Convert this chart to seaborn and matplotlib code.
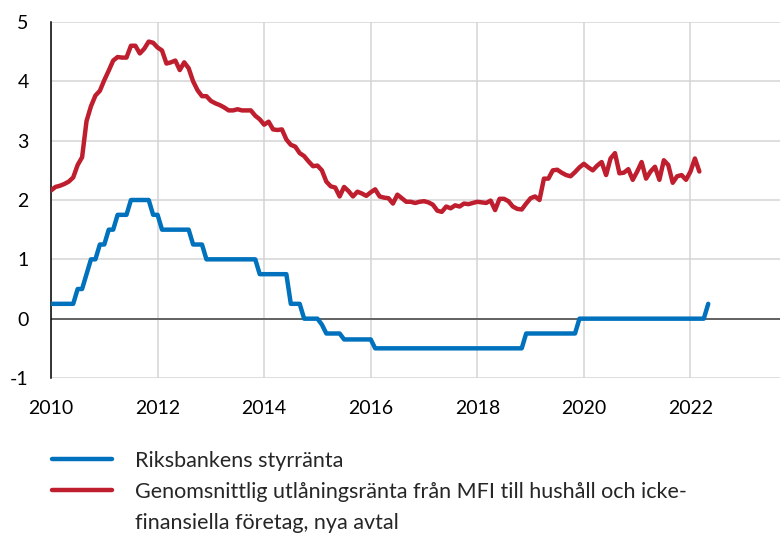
import matplotlib
matplotlib.use('Agg')
import matplotlib.pyplot as plt
from matplotlib.lines import Line2D
import numpy as np
import pandas as pd
import seaborn as sns

# monthly data, first point is January 2010
start_year = 2010

# Riksbankens styrränta (percent), Jan 2010 - May 2022
repo_rate = [
    0.25, 0.25, 0.25, 0.25, 0.25, 0.25, 0.5, 0.5, 0.75, 1.0, 1.0, 1.25,          # 2010
    1.25, 1.5, 1.5, 1.75, 1.75, 1.75, 2.0, 2.0, 2.0, 2.0, 2.0, 1.75,             # 2011
    1.75, 1.5, 1.5, 1.5, 1.5, 1.5, 1.5, 1.5, 1.25, 1.25, 1.25, 1.0,              # 2012
    1.0, 1.0, 1.0, 1.0, 1.0, 1.0, 1.0, 1.0, 1.0, 1.0, 1.0, 0.75,                 # 2013
    0.75, 0.75, 0.75, 0.75, 0.75, 0.75, 0.25, 0.25, 0.25, 0.0, 0.0, 0.0,         # 2014
    0.0, -0.1, -0.25, -0.25, -0.25, -0.25, -0.35, -0.35, -0.35, -0.35, -0.35, -0.35,  # 2015
    -0.35, -0.5, -0.5, -0.5, -0.5, -0.5, -0.5, -0.5, -0.5, -0.5, -0.5, -0.5,     # 2016
    -0.5, -0.5, -0.5, -0.5, -0.5, -0.5, -0.5, -0.5, -0.5, -0.5, -0.5, -0.5,      # 2017
    -0.5, -0.5, -0.5, -0.5, -0.5, -0.5, -0.5, -0.5, -0.5, -0.5, -0.5, -0.25,     # 2018
    -0.25, -0.25, -0.25, -0.25, -0.25, -0.25, -0.25, -0.25, -0.25, -0.25, -0.25, 0.0,  # 2019
    0.0, 0.0, 0.0, 0.0, 0.0, 0.0, 0.0, 0.0, 0.0, 0.0, 0.0, 0.0,                  # 2020
    0.0, 0.0, 0.0, 0.0, 0.0, 0.0, 0.0, 0.0, 0.0, 0.0, 0.0, 0.0,                  # 2021
    0.0, 0.0, 0.0, 0.0, 0.25,                                                    # 2022
]

# Genomsnittlig utlåningsränta från MFI (percent), Jan 2010 - Mar 2022
lending_rate = [
    2.16, 2.22, 2.24, 2.27, 2.31, 2.38, 2.59, 2.72, 3.33, 3.58, 3.76, 3.84,  # 2010
    4.02, 4.18, 4.35, 4.41, 4.40, 4.40, 4.60, 4.60, 4.47, 4.55, 4.67, 4.65,  # 2011
    4.57, 4.52, 4.30, 4.32, 4.35, 4.19, 4.32, 4.22, 4.00, 3.85, 3.75, 3.75,  # 2012
    3.67, 3.63, 3.60, 3.56, 3.51, 3.51, 3.53, 3.51, 3.51, 3.51, 3.42, 3.36,  # 2013
    3.27, 3.32, 3.19, 3.18, 3.19, 3.02, 2.93, 2.90, 2.79, 2.74, 2.65, 2.57,  # 2014
    2.58, 2.50, 2.31, 2.23, 2.21, 2.06, 2.22, 2.15, 2.06, 2.14, 2.11, 2.07,  # 2015
    2.13, 2.18, 2.06, 2.04, 2.03, 1.94, 2.09, 2.03, 1.97, 1.97, 1.95, 1.97,  # 2016
    1.98, 1.96, 1.92, 1.82, 1.80, 1.89, 1.86, 1.91, 1.89, 1.94, 1.93, 1.95,  # 2017
    1.97, 1.96, 1.95, 1.99, 1.83, 2.02, 2.02, 1.98, 1.89, 1.85, 1.84, 1.94,  # 2018
    2.03, 2.06, 2.00, 2.36, 2.36, 2.50, 2.51, 2.46, 2.42, 2.40, 2.47, 2.55,  # 2019
    2.61, 2.55, 2.50, 2.58, 2.64, 2.42, 2.70, 2.79, 2.45, 2.46, 2.52, 2.34,  # 2020
    2.48, 2.64, 2.36, 2.48, 2.56, 2.34, 2.67, 2.59, 2.29, 2.40, 2.42, 2.34,  # 2021
    2.48, 2.70, 2.48,                                                        # 2022
]

labels = [
    'Riksbankens styrränta',
    'Genomsnittlig utlåningsränta från MFI till hushåll och icke-',
    'finansiella företag, nya avtal',
]
year_ticks = [2010, 2012, 2014, 2016, 2018, 2020, 2022]
y_ticks = [-1, 0, 1, 2, 3, 4, 5]

blue = '#0071bc'
red = '#be1e2d'

repo = pd.DataFrame({'year': start_year + np.arange(len(repo_rate)) / 12,
                     'rate': repo_rate})
lend = pd.DataFrame({'year': start_year + np.arange(len(lending_rate)) / 12,
                     'rate': lending_rate})

sns.set_style('white')
plt.rcParams['font.family'] = ['Lato', 'DejaVu Sans']
plt.rcParams['axes.unicode_minus'] = False

fig = plt.figure(figsize=(7.8, 5.38), dpi=100)
ax = fig.add_axes([51 / 780, 1 - 378 / 538, 1 - 51 / 780, (378 - 22) / 538])

ax.axhline(0, color='#595959', lw=1.3, zorder=1.5)
sns.lineplot(data=repo, x='year', y='rate', color=blue, lw=3.2, ax=ax, zorder=3)
sns.lineplot(data=lend, x='year', y='rate', color=red, lw=3.2, ax=ax, zorder=3)

ax.set_xlim(2010, 2023.68)
ax.set_ylim(-1, 5)
ax.set_xticks(year_ticks)
ax.set_yticks(y_ticks)
ax.set_xlabel('')
ax.set_ylabel('')
ax.grid(True, color='#d4d4d4', lw=1.1, zorder=0)
ax.set_axisbelow(True)

for side in ['top', 'right', 'bottom']:
    ax.spines[side].set_visible(False)
ax.spines['left'].set_color('black')
ax.spines['left'].set_linewidth(1.1)

ax.tick_params(axis='x', length=0, pad=16, labelsize=14, colors='black')
ax.tick_params(axis='y', direction='in', length=5, width=1.1, pad=16,
               labelsize=14, colors='black')

handles = [Line2D([], [], color=blue, lw=3.2),
           Line2D([], [], color=red, lw=3.2),
           Line2D([], [], color='none')]
fig.legend(handles, labels, loc='upper left',
           bbox_to_anchor=(52 / 780, 1 - 451 / 538), frameon=False,
           borderpad=0, borderaxespad=0, fontsize=15.5,
           handlelength=2.8, handletextpad=1.07, labelspacing=0.51)

fig.savefig('out.png', dpi=100)
